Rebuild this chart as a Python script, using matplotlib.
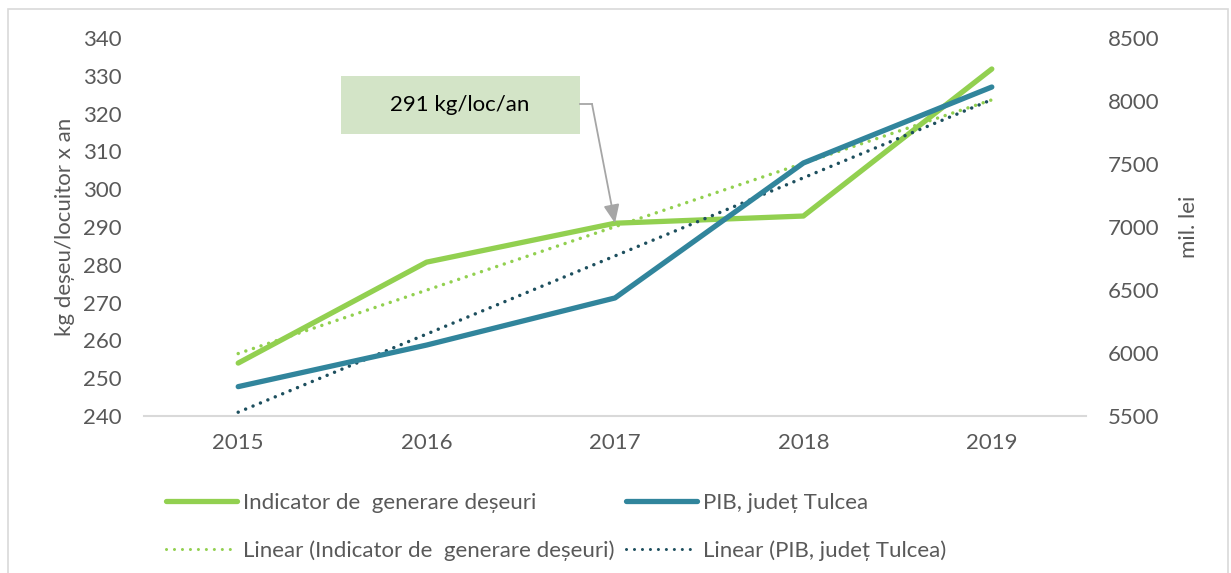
import matplotlib.pyplot as plt
import numpy as np
from matplotlib.lines import Line2D
from matplotlib.patches import Rectangle

years = ["2015", "2016", "2017", "2018", "2019"]
waste_kg = [254, 280.7, 291, 292.9, 331.8]
gdp_mil_lei = [5733, 6063, 6437, 7508, 8111]
waste_label = "Indicator de  generare deșeuri"
gdp_label = "PIB, județ Tulcea"
note_text = "291 kg/loc/an"

GREEN = "#92D050"
TEAL = "#31859C"
DARK = "#1D4F5E"
TEXT = "#595959"
FS = 16

plt.rcParams["font.family"] = ["Lato", "DejaVu Sans"]
plt.rcParams["font.size"] = FS

W, H = 1231, 573
fig = plt.figure(figsize=(W / 100, H / 100), dpi=100)
ax = fig.add_axes([144 / W, 1 - 416 / H, (1086 - 144) / W, (416 - 38) / H])
ax2 = ax.twinx()

x = np.arange(len(years))
ax.plot(x, waste_kg, color=GREEN, lw=3.8, solid_capstyle="round", solid_joinstyle="round", zorder=3)
ax2.plot(x, gdp_mil_lei, color=TEAL, lw=3.8, solid_capstyle="round", solid_joinstyle="round", zorder=3)

# linear trend lines, as the spreadsheet draws them
fit_w = np.polyval(np.polyfit(x, waste_kg, 1), x)
fit_g = np.polyval(np.polyfit(x, gdp_mil_lei, 1), x)
dots = (0, (0.01, 2.3))
ax.plot(x, fit_w, color=GREEN, lw=2.5, ls=dots, dash_capstyle="round", zorder=2)
ax2.plot(x, fit_g, color=DARK, lw=2.5, ls=dots, dash_capstyle="round", zorder=2)

ax.set_xlim(-0.5, len(years) - 0.5)
ax.set_ylim(240, 340)
ax.set_yticks(np.arange(240, 341, 10))
ax2.set_ylim(5500, 8500)
ax2.set_yticks(np.arange(5500, 8501, 500))
ax.set_xticks(x, years)

for a in (ax, ax2):
    for s in a.spines.values():
        s.set_visible(False)
    a.tick_params(length=0, colors=TEXT, labelsize=FS)
ax.spines["bottom"].set_visible(True)
ax.spines["bottom"].set_color("#D9D9D9")
ax.spines["bottom"].set_linewidth(1.5)
ax.tick_params(axis="y", pad=16)
ax.tick_params(axis="x", pad=12)
ax2.tick_params(axis="y", pad=16)

ax.set_ylabel("kg deșeu/locuitor x an", color=TEXT, fontsize=FS)
ax.yaxis.set_label_coords(-0.073, 0.5)
ax2.set_ylabel("mil. lei", color=TEXT, fontsize=FS)
ax2.yaxis.set_label_coords(1.099, 0.5)

# annotation box with arrow
fig.add_artist(Rectangle((341 / W, 1 - 134 / H), 239 / W, 58 / H, transform=fig.transFigure,
                         facecolor="#D3E4C7", edgecolor="none"))
fig.text(460 / W, 1 - 105 / H, note_text, ha="center", va="center", fontsize=FS, color="black")
fig.add_artist(Line2D([580 / W, 592 / W], [1 - 104 / H, 1 - 104 / H], transform=fig.transFigure,
                      color="#A6A6A6", lw=1.3))
ax.annotate("", xy=(2, waste_kg[2]), xycoords="data",
            xytext=(592 / W, 1 - 104 / H), textcoords="figure fraction",
            arrowprops=dict(arrowstyle="-|>,head_length=0.7,head_width=0.3", color="#A6A6A6",
                            lw=1.3, shrinkA=0, shrinkB=0), zorder=5)

# legend
handles = [
    Line2D([], [], color=GREEN, lw=3.8, solid_capstyle="round"),
    Line2D([], [], color=GREEN, lw=2.2, ls=(0, (0.01, 2.6)), dash_capstyle="round"),
    Line2D([], [], color=TEAL, lw=3.8, solid_capstyle="round"),
    Line2D([], [], color=DARK, lw=2.2, ls=(0, (0.01, 2.6)), dash_capstyle="round"),
]
labels = [waste_label, f"Linear ({waste_label})", gdp_label, f"Linear ({gdp_label})"]
leg = fig.legend(handles, labels, ncol=2, loc="upper left", bbox_to_anchor=(166 / W, 1 - 493 / H),
                 frameon=False, fontsize=FS, handlelength=3.2, handletextpad=0.27,
                 columnspacing=0.5, labelspacing=1.22, borderpad=0, borderaxespad=0)
for t in leg.get_texts():
    t.set_color(TEXT)

# outer chart frame
fig.add_artist(Rectangle((8 / W, -0.05), (1228 - 8) / W, 1.05 - 9 / H, transform=fig.transFigure,
                         facecolor="none", edgecolor="#D9D9D9", lw=1.2))

fig.savefig("out.png", dpi=100, facecolor="white")
